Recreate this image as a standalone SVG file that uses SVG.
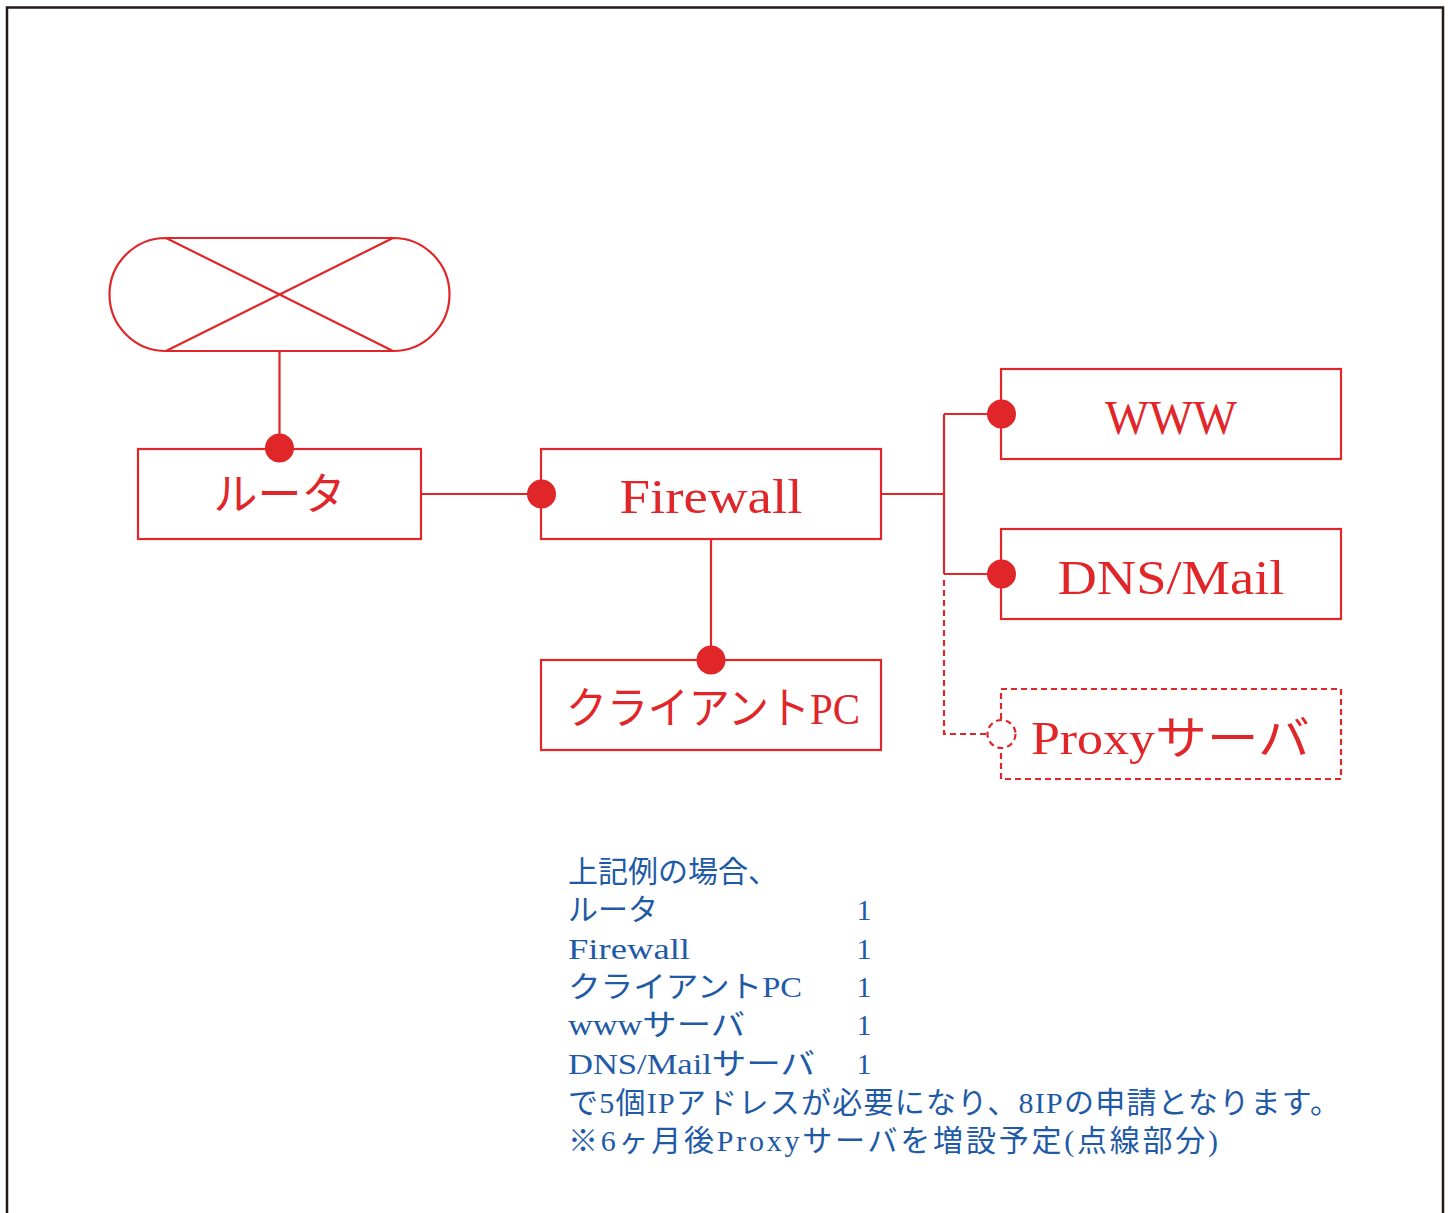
<svg xmlns="http://www.w3.org/2000/svg" width="1451" height="1213" viewBox="0 0 1451 1213">
<style>
.frame{fill:none;stroke:#231815;stroke-width:2.5}
.ln{fill:none;stroke:#e1262a;stroke-width:2.2}
.box{fill:#fff;stroke:#e1262a;stroke-width:2.2}
.dash{fill:none;stroke:#e1262a;stroke-width:2.2;stroke-dasharray:6 4}
.dot{fill:#e1262a}
.lbl{font-family:"Liberation Serif","Noto Sans CJK JP",serif;fill:#e1262a;text-anchor:middle}
.note{font-family:"Liberation Serif","Noto Sans CJK JP",serif;fill:#1f5aa6;font-size:30px}
</style>
<rect width="1451" height="1213" fill="#fff"/>
<path class="frame" d="M7 1213 V7.5 H1443 V1213"/>
<g id="connectors">
<line class="ln" x1="279.5" y1="351" x2="279.5" y2="448"/>
<line class="ln" x1="421" y1="494" x2="541" y2="494"/>
<line class="ln" x1="711" y1="540" x2="711" y2="660"/>
<path class="ln" d="M881 494 H944 M944 414 V574 M944 414 H1001 M944 574 H1001"/>
<path class="dash" d="M944 580 V734 H987"/>
</g>
<g id="internet">
<path class="ln" d="M166 238 H393 A56.5 56.5 0 0 1 393 351 H166 A56.5 56.5 0 0 1 166 238 Z M166 238 L393 351 M393 238 L166 351"/>
</g>
<g id="router">
<rect class="box" x="138" y="449" width="283" height="90"/>
<circle class="dot" cx="279.5" cy="448" r="14.5"/>
<text class="lbl" x="279.5" y="510" font-size="44">ルータ</text>
</g>
<g id="firewall">
<rect class="box" x="541" y="449" width="340" height="90"/>
<circle class="dot" cx="541.5" cy="494" r="14.5"/>
<text class="lbl" x="711" y="513" font-size="48" textLength="183" lengthAdjust="spacingAndGlyphs">Firewall</text>
</g>
<g id="client">
<rect class="box" x="541" y="660" width="340" height="90"/>
<circle class="dot" cx="711" cy="660" r="14.5"/>
<text class="lbl" x="713" y="724" font-size="44" textLength="294" lengthAdjust="spacingAndGlyphs">クライアントPC</text>
</g>
<g id="www">
<rect class="box" x="1001" y="369" width="340" height="90"/>
<circle class="dot" cx="1001.5" cy="414" r="14.5"/>
<text class="lbl" x="1171" y="434" font-size="48" textLength="132" lengthAdjust="spacingAndGlyphs">WWW</text>
</g>
<g id="dnsmail">
<rect class="box" x="1001" y="529" width="340" height="90"/>
<circle class="dot" cx="1001.5" cy="574" r="14.5"/>
<text class="lbl" x="1171" y="594" font-size="48" textLength="227" lengthAdjust="spacingAndGlyphs">DNS/Mail</text>
</g>
<g id="proxy">
<rect class="dash" x="1001" y="689" width="340" height="90"/>
<circle cx="1001.5" cy="734" r="14" fill="#fff" stroke="#e1262a" stroke-width="2.2" stroke-dasharray="6 4"/>
<text class="lbl" x="1170.5" y="754" font-size="46" textLength="279" lengthAdjust="spacingAndGlyphs">Proxyサーバ</text>
</g>
<g id="note">
<text class="note" x="568" y="882">上記例の場合、</text>
<text class="note" x="568" y="920">ルータ</text>
<text class="note" x="568" y="959" textLength="122" lengthAdjust="spacingAndGlyphs">Firewall</text>
<text class="note" x="568" y="997" textLength="234" lengthAdjust="spacingAndGlyphs">クライアントPC</text>
<text class="note" x="568" y="1035" textLength="177" lengthAdjust="spacingAndGlyphs">wwwサーバ</text>
<text class="note" x="568" y="1074" textLength="247" lengthAdjust="spacingAndGlyphs">DNS/Mailサーバ</text>
<text class="note" x="568" y="1113" textLength="772" lengthAdjust="spacing">で5個IPアドレスが必要になり、8IPの申請となります。</text>
<text class="note" x="568" y="1151" textLength="650" lengthAdjust="spacing">※6ヶ月後Proxyサーバを増設予定(点線部分)</text>
<text class="note" x="864" y="920" text-anchor="middle">1</text>
<text class="note" x="864" y="959" text-anchor="middle">1</text>
<text class="note" x="864" y="997" text-anchor="middle">1</text>
<text class="note" x="864" y="1035" text-anchor="middle">1</text>
<text class="note" x="864" y="1074" text-anchor="middle">1</text>
</g>
</svg>
